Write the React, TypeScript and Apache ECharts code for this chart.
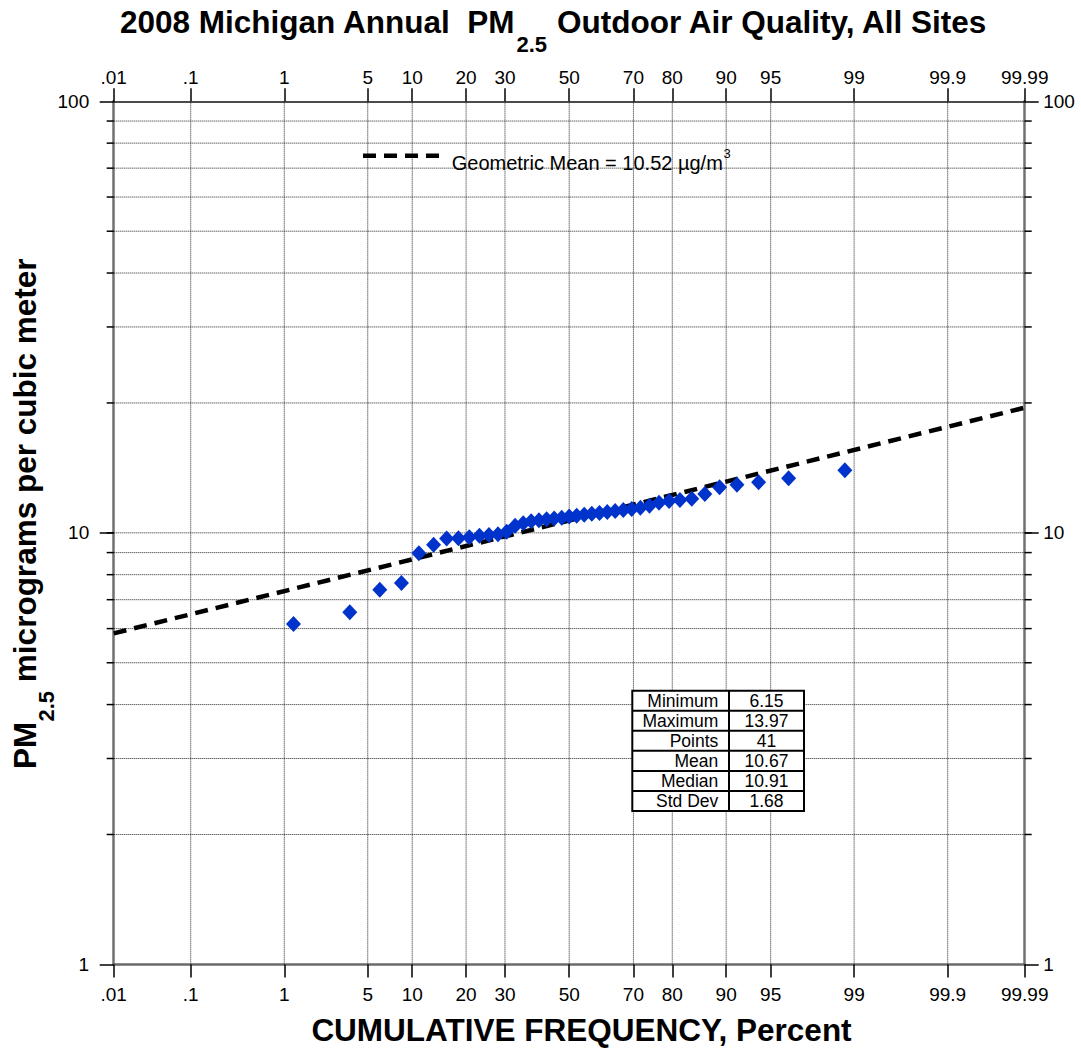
import React, { useEffect, useRef } from "react";
import * as echarts from "echarts";

// ---------- data ----------
const tickPercents = [0.01, 0.1, 1, 5, 10, 20, 30, 50, 70, 80, 90, 95, 99, 99.9, 99.99];
const tickLabels = [".01", ".1", "1", "5", "10", "20", "30", "50", "70", "80", "90", "95", "99", "99.9", "99.99"];
const yGridValues = [2, 3, 4, 5, 6, 7, 8, 9, 10, 20, 30, 40, 50, 60, 70, 80, 90];

// cumulative frequency (percent) of each ranked site
const pointPercents = [
  1.22, 3.66, 6.1, 8.54, 10.98, 13.41, 15.85, 18.29, 20.73, 23.17, 25.61, 28.05, 30.49, 32.93,
  35.37, 37.8, 40.24, 42.68, 45.12, 47.56, 50.0, 52.44, 54.88, 57.32, 59.76, 62.2, 64.63, 67.07,
  69.51, 71.95, 74.39, 76.83, 79.27, 81.71, 84.15, 86.59, 89.02, 91.46, 93.9, 96.34, 98.78,
];
// annual PM2.5 (µg/m³)
const pointValues = [
  6.15, 6.55, 7.38, 7.65, 8.97, 9.39, 9.7, 9.72, 9.77, 9.84, 9.88, 9.93, 10.06, 10.38,
  10.52, 10.64, 10.7, 10.75, 10.79, 10.84, 10.91, 10.96, 11.02, 11.07, 11.12, 11.17, 11.23, 11.29,
  11.36, 11.44, 11.56, 11.75, 11.85, 11.92, 12.0, 12.3, 12.75, 12.93, 13.1, 13.38, 13.97,
];
// geometric mean (lognormal) fit line end points
const fitPercents = [0.01, 99.99];
const fitValues = [5.85, 19.5];

const statLabels = ["Minimum", "Maximum", "Points", "Mean", "Median", "Std Dev"];
const statValues = ["6.15", "13.97", "41", "10.67", "10.91", "1.68"];

// ---------- normal probability scale ----------
function probit(p: number): number {
  const a = [-3.969683028665376e1, 2.209460984245205e2, -2.759285104469687e2, 1.38357751867269e2, -3.066479806614716e1, 2.506628277459239];
  const b = [-5.447609879822406e1, 1.615858368580409e2, -1.556989798598866e2, 6.680131188771972e1, -1.328068155288572e1];
  const c = [-7.784894002430293e-3, -3.223964580411365e-1, -2.400758277161838, -2.549732539343734, 4.374664141464968, 2.938163982698783];
  const d = [7.784695709041462e-3, 3.224671290700398e-1, 2.445134137142996, 3.754408661907416];
  const plow = 0.02425;
  const phigh = 1 - plow;
  if (p < plow) {
    const q = Math.sqrt(-2 * Math.log(p));
    return (((((c[0] * q + c[1]) * q + c[2]) * q + c[3]) * q + c[4]) * q + c[5]) /
      ((((d[0] * q + d[1]) * q + d[2]) * q + d[3]) * q + 1);
  }
  if (p <= phigh) {
    const q = p - 0.5;
    const r = q * q;
    return ((((((a[0] * r + a[1]) * r + a[2]) * r + a[3]) * r + a[4]) * r + a[5]) * q) /
      (((((b[0] * r + b[1]) * r + b[2]) * r + b[3]) * r + b[4]) * r + 1);
  }
  const q = Math.sqrt(-2 * Math.log(1 - p));
  return -(((((c[0] * q + c[1]) * q + c[2]) * q + c[3]) * q + c[4]) * q + c[5]) /
    ((((d[0] * q + d[1]) * q + d[2]) * q + d[3]) * q + 1);
}

const zTicks = tickPercents.map((p) => probit(p / 100));
const zMin = zTicks[0];
const zMax = zTicks[zTicks.length - 1];

const FONT = '"Liberation Sans", Arial, Helvetica, sans-serif';

function tickFormatter(v: number): string {
  let best = 0;
  let bestD = Infinity;
  zTicks.forEach((z, i) => {
    const dd = Math.abs(z - v);
    if (dd < bestD) {
      bestD = dd;
      best = i;
    }
  });
  return tickLabels[best];
}

function xAxisDef(pos: "top" | "bottom") {
  return {
    type: "value",
    position: pos,
    min: zMin,
    max: zMax,
    axisLine: {
      show: true,
      onZero: false,
      lineStyle: pos === "top" ? { color: "#111", width: 1.5 } : { color: "#6a6a6a", width: 2.5 },
    },
    axisTick: {
      show: true,
      inside: false,
      customValues: zTicks,
      length: 13,
      lineStyle: { color: "#000", width: 1.5 },
    },
    axisLabel: {
      show: true,
      customValues: zTicks,
      formatter: tickFormatter,
      fontSize: 19,
      fontFamily: FONT,
      color: "#000",
      margin: pos === "top" ? 14 : 21,
    },
    splitLine: { show: false },
    minorTick: { show: false },
    minorSplitLine: { show: false },
  };
}

function yAxisDef(pos: "left" | "right") {
  return {
    type: "log",
    logBase: 10,
    min: 1,
    max: 100,
    position: pos,
    axisLine: { show: true, onZero: false, lineStyle: { color: "#707070", width: 2.5 } },
    axisTick: { show: true, inside: false, length: 14, lineStyle: { color: "#000", width: 1.5 } },
    axisLabel: {
      show: true,
      fontSize: 19,
      fontFamily: FONT,
      color: "#000",
      margin: pos === "left" ? 24.5 : 18.5,
    },
    splitLine: { show: false },
    minorTick: { show: false },
    minorSplitLine: { show: false },
  };
}

const dotted = { stroke: "#222", lineWidth: 1, lineDash: [1, 1] };

function buildOption() {
  const TITLE_MAIN = `bold 31.5px ${FONT}`;
  const TITLE_SUB = `bold 22px ${FONT}`;
  const tableLeft = 632.3;
  const tableRight = 804;
  const tableTop = 690.7;
  const rowH = 20.05;
  const colX = 729;
  const tableBottom = tableTop + rowH * statLabels.length;
  const TZ = 100;

  const tableChildren: any[] = [];
  tableChildren.push({
    type: "rect",
    z: TZ,
    shape: { x: tableLeft, y: tableTop, width: tableRight - tableLeft, height: tableBottom - tableTop },
    style: { fill: "#fff", stroke: "#000", lineWidth: 2 },
  });
  tableChildren.push({
    type: "line",
    z: TZ + 1,
    shape: { x1: colX, y1: tableTop, x2: colX, y2: tableBottom },
    style: { stroke: "#000", lineWidth: 2 },
  });
  statLabels.forEach((lab, i) => {
    const cy = tableTop + rowH * (i + 0.5);
    if (i > 0) {
      tableChildren.push({
        type: "line",
        z: TZ + 1,
        shape: { x1: tableLeft, y1: tableTop + rowH * i, x2: tableRight, y2: tableTop + rowH * i },
        style: { stroke: "#000", lineWidth: 2 },
      });
    }
    tableChildren.push({
      type: "text",
      z: TZ + 2,
      x: 718.3,
      y: cy + 0.5,
      style: { text: lab, font: `17.5px ${FONT}`, fill: "#000", textAlign: "right", textVerticalAlign: "middle" },
    });
    tableChildren.push({
      type: "text",
      z: TZ + 2,
      x: (colX + tableRight) / 2,
      y: cy + 0.5,
      style: { text: statValues[i], font: `17.5px ${FONT}`, fill: "#000", textAlign: "center", textVerticalAlign: "middle" },
    });
  });

  return {
    animation: false,
    backgroundColor: "#fff",
    grid: { left: 113.7, right: 1081 - 1024.7, top: 101.3, bottom: 1052 - 964.4, containLabel: false, outerBoundsMode: "none" },
    xAxis: [xAxisDef("bottom"), xAxisDef("top")],
    yAxis: [yAxisDef("left"), yAxisDef("right")],
    graphic: [
      // title
      {
        type: "text",
        x: 120,
        y: 21.9,
        style: { text: "2008 Michigan Annual  PM", font: TITLE_MAIN, fill: "#000", textAlign: "left", textVerticalAlign: "middle" },
      },
      {
        type: "text",
        x: 516.5,
        y: 44.3,
        style: { text: "2.5", font: TITLE_SUB, fill: "#000", textAlign: "left", textVerticalAlign: "middle" },
      },
      {
        type: "text",
        x: 557,
        y: 21.9,
        style: { text: "Outdoor Air Quality, All Sites", font: TITLE_MAIN, fill: "#000", textAlign: "left", textVerticalAlign: "middle" },
      },
      // y axis name (rotated)
      {
        type: "group",
        x: 25,
        y: 769,
        rotation: Math.PI / 2,
        children: [
          {
            type: "text",
            x: 0,
            y: 0,
            style: { text: "PM", font: TITLE_MAIN, fill: "#000", textAlign: "left", textVerticalAlign: "middle" },
          },
          {
            type: "text",
            x: 47.5,
            y: 21,
            style: { text: "2.5", font: TITLE_SUB, fill: "#000", textAlign: "left", textVerticalAlign: "middle" },
          },
          {
            type: "text",
            x: 78.1,
            y: 0,
            style: { text: " micrograms per cubic meter", font: TITLE_MAIN, fill: "#000", textAlign: "left", textVerticalAlign: "middle" },
          },
        ],
      },
      // x axis name
      {
        type: "text",
        x: 581.5,
        y: 1030,
        style: { text: "CUMULATIVE FREQUENCY, Percent", font: TITLE_MAIN, fill: "#000", textAlign: "center", textVerticalAlign: "middle" },
      },
      // legend
      {
        type: "line",
        z: TZ,
        shape: { x1: 363, y1: 155.7, x2: 442, y2: 155.7 },
        style: { stroke: "#000", lineWidth: 4.5, lineDash: [13, 8] },
      },
      {
        type: "text",
        z: TZ,
        x: 451.7,
        y: 163.3,
        style: { text: "Geometric Mean = 10.52 µg/m", font: `20px ${FONT}`, fill: "#000", textAlign: "left", textVerticalAlign: "middle" },
      },
      {
        type: "text",
        z: TZ,
        x: 723.5,
        y: 153.3,
        style: { text: "3", font: `13px ${FONT}`, fill: "#000", textAlign: "left", textVerticalAlign: "middle" },
      },
      // statistics table
      { type: "group", z: TZ, children: tableChildren },
    ],
    series: [
      {
        type: "custom",
        name: "vgrid",
        xAxisIndex: 0,
        yAxisIndex: 0,
        clip: false,
        silent: true,
        z: 1,
        data: zTicks.slice(1, -1).map((z) => [z, 1]),
        renderItem: (_params: any, api: any) => {
          const z = api.value(0);
          const a = api.coord([z, 1]);
          const b = api.coord([z, 100]);
          return { type: "line", shape: { x1: a[0], y1: a[1], x2: b[0], y2: b[1] }, style: dotted };
        },
      },
      {
        type: "custom",
        name: "hgrid",
        xAxisIndex: 0,
        yAxisIndex: 0,
        clip: false,
        silent: true,
        z: 1,
        data: yGridValues.map((v) => [zMin, v]),
        renderItem: (_params: any, api: any) => {
          const v = api.value(1);
          const a = api.coord([zMin, v]);
          const b = api.coord([zMax, v]);
          return {
            type: "group",
            children: [
              { type: "line", shape: { x1: a[0], y1: a[1], x2: b[0], y2: b[1] }, style: dotted },
              { type: "line", shape: { x1: a[0] - 7, y1: a[1], x2: a[0], y2: a[1] }, style: { stroke: "#000", lineWidth: 1.5 } },
              { type: "line", shape: { x1: b[0], y1: b[1], x2: b[0] + 7, y2: b[1] }, style: { stroke: "#000", lineWidth: 1.5 } },
            ],
          };
        },
      },
      {
        type: "line",
        name: "Geometric Mean",
        xAxisIndex: 0,
        yAxisIndex: 0,
        data: fitPercents.map((p, i) => [probit(p / 100), fitValues[i]]),
        symbol: "none",
        showSymbol: false,
        silent: true,
        z: 3,
        lineStyle: { color: "#000", width: 4.5, type: [13, 8] },
      },
      {
        type: "scatter",
        name: "Sites",
        xAxisIndex: 0,
        yAxisIndex: 0,
        data: pointPercents.map((p, i) => [probit(p / 100), pointValues[i]]),
        symbol: "diamond",
        symbolSize: [15, 16],
        itemStyle: { color: "#0033cc", opacity: 1 },
        z: 4,
      },
    ],
  };
}

export default function App() {
  const ref = useRef<HTMLDivElement>(null);
  useEffect(() => {
    if (!ref.current) return;
    const chart = echarts.init(ref.current, null, { renderer: "svg" });
    chart.setOption(buildOption() as any);
    return () => {
      chart.dispose();
    };
  }, []);
  return (
    <div
      ref={ref}
      style={{ position: "absolute", left: 0, top: 0, width: 1081, height: 1052, background: "#fff" }}
    />
  );
}
